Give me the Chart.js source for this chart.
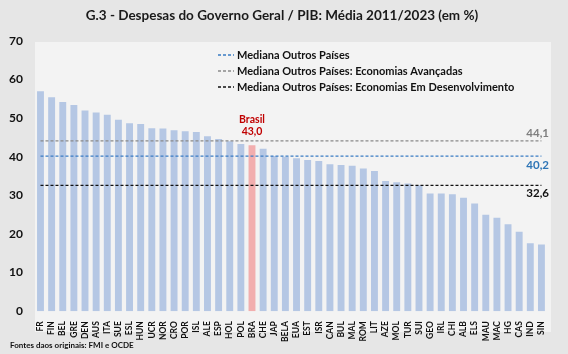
<!DOCTYPE html>
<html>
<head>
<meta charset="utf-8">
<script src="https://cdn.jsdelivr.net/npm/chart.js@4"></script>
<style>
  html, body { margin: 0; padding: 0; background: #e7e7e7; }
  #wrap { width: 568px; height: 354px; position: relative; }
</style>
</head>
<body>
<div id="wrap"><canvas id="myChart" width="568" height="354"></canvas></div>
<script>
// countries, sorted as in the original chart
const countries = ['FR','FIN','BEL','GRE','DEN','AUS','ITA','SUE','ESL','HUN','UCR','NOR','CRO','POR','ISL',
  'ALE','ESP','HOL','POL','BRA','CHE','JAP','BELA','EUA','EST','ISR','CAN','BUL','MAL','ROM','LIT',
  'AZE','MOL','TUR','SUI','GEO','IRL','CHI','ALB','ELS','MAU','MAC','HG','CAS','IND','SIN'];

// average 2011/2023 general government spending, % of GDP
const despesas = [57.0, 55.4, 54.2, 53.4, 52.0, 51.5, 50.9, 49.6, 48.7, 48.5, 47.4, 47.3, 46.9, 46.6, 46.4,
  45.3, 44.6, 44.0, 43.3, 43.0, 42.1, 40.2, 40.0, 39.6, 39.2, 38.9, 38.1, 37.9, 37.7, 37.0, 36.3,
  33.7, 33.4, 33.1, 32.6, 30.5, 30.5, 30.3, 29.4, 27.9, 25.0, 24.2, 22.5, 20.6, 17.6, 17.3];

const yTicks = [0, 10, 20, 30, 40, 50, 60, 70];

const medianaTodos = 40.2;
const medianaAvancadas = 44.1;
const medianaEmergentes = 32.6;

const legendLabels = ['Mediana Outros Países', 'Mediana Outros Países: Economias Avançadas', 'Mediana Outros Países: Economias Em Desenvolvimento'];
const brasilIdx = countries.indexOf('BRA');

const FONT = 'Lato, "Open Sans", sans-serif';
const blueLine = '#3a7cc4';
const greyLine = '#8a8a8a';
const blackLine = '#111111';

let barColors = countries.map((c) => c === 'BRA' ? '#f2aeae' : '#b5c7e4');
let fmt = (v) => v.toFixed(1).replace('.', ',');

// background + texts drawn on top of the chart
const decor = {
  id: 'decor',
  beforeDraw(chart) {
    const ctx = chart.ctx;
    ctx.save();
    ctx.fillStyle = '#e6e6e6';
    ctx.fillRect(0, 0, chart.width, chart.height);
    ctx.fillStyle = '#f3f3f3';
    ctx.fillRect(35, 42, 516, 290);
    ctx.restore();
  },
  afterDraw(chart) {
    const ctx = chart.ctx;
    const x = chart.scales.x, y = chart.scales.y;
    ctx.save();
    ctx.textBaseline = 'middle';

    // title
    ctx.fillStyle = '#1a1a1a';
    ctx.font = 'bold 13.5px ' + FONT;
    ctx.textAlign = 'center';
    ctx.fillText('G.3 - Despesas do Governo Geral / PIB: Média 2011/2023 (em %)', 282, 16);

    // legend
    const cols = [blueLine, greyLine, blackLine];
    ctx.font = 'bold 11px ' + FONT;
    ctx.textAlign = 'left';
    legendLabels.forEach((t, i) => {
      const ly = 55 + i * 16;
      ctx.strokeStyle = cols[i];
      ctx.lineWidth = 1.3;
      ctx.setLineDash([3, 2]);
      ctx.beginPath();
      ctx.moveTo(218, ly);
      ctx.lineTo(234, ly);
      ctx.stroke();
      ctx.fillStyle = '#111';
      ctx.fillText(t, 237, ly);
    });
    ctx.setLineDash([]);

    // Brasil label
    const bx = x.getPixelForValue(brasilIdx);
    ctx.fillStyle = '#c00000';
    ctx.textAlign = 'center';
    ctx.font = 'bold 10.5px ' + FONT;
    ctx.fillText('Brasil', bx, 120);
    ctx.fillText(fmt(despesas[brasilIdx]), bx, 132);

    // median values on the right
    ctx.textAlign = 'right';
    ctx.font = 'bold 11.5px ' + FONT;
    ctx.fillStyle = '#7f7f7f';
    ctx.fillText(fmt(medianaAvancadas), 549, y.getPixelForValue(medianaAvancadas) - 8);
    ctx.fillStyle = '#2e75b6';
    ctx.fillText(fmt(medianaTodos), 549, y.getPixelForValue(medianaTodos) + 9);
    ctx.fillStyle = '#111';
    ctx.fillText(fmt(medianaEmergentes), 549, y.getPixelForValue(medianaEmergentes) + 8);

    // source
    ctx.font = 'bold 8px ' + FONT;
    ctx.textAlign = 'left';
    ctx.fillStyle = '#111';
    ctx.fillText('Fontes daos originais: FMI e OCDE', 10, 345);
    ctx.restore();
  }
};

function medianLine(value, color) {
  return {
    type: 'line',
    data: countries.map(() => value),
    borderColor: color,
    borderWidth: 1.3,
    borderDash: [3, 2],
    pointRadius: 0,
    fill: false,
    order: 0
  };
}

const ctx = document.getElementById('myChart').getContext('2d');
const myChart = new Chart(ctx, {
  type: 'bar',
  data: {
    labels: countries,
    datasets: [
      medianLine(medianaAvancadas, greyLine),
      medianLine(medianaTodos, blueLine),
      medianLine(medianaEmergentes, blackLine),
      {
        type: 'bar',
        data: despesas,
        backgroundColor: barColors,
        barPercentage: 0.62,
        categoryPercentage: 1,
        order: 1
      }
    ]
  },
  options: {
    responsive: false,
    animation: false,
    layout: { padding: { top: 41, left: 5, right: 21, bottom: 10 } },
    plugins: {
      legend: { display: false },
      title: { display: false },
      tooltip: { enabled: false }
    },
    scales: {
      x: {
        grid: { display: false },
        border: { display: false },
        ticks: {
          minRotation: 90,
          maxRotation: 90,
          autoSkip: false,
          padding: 2,
          color: '#111',
          font: { family: FONT, size: 8.5, weight: 'bold' }
        }
      },
      y: {
        min: 0,
        max: 70,
        grid: { display: false },
        border: { display: false },
        afterBuildTicks: (axis) => { axis.ticks = yTicks.map((v) => ({ value: v })); },
        ticks: {
          padding: 4,
          color: '#111',
          font: { family: FONT, size: 12, weight: 'bold' }
        }
      }
    }
  },
  plugins: [decor]
});
</script>
</body>
</html>
